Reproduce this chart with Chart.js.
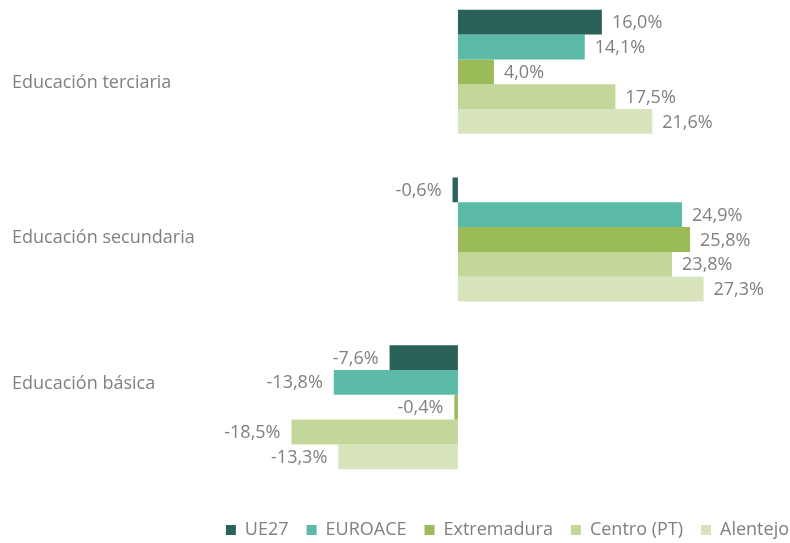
<!DOCTYPE html>
<html>
<head>
<meta charset="utf-8">
<script src="https://cdn.jsdelivr.net/npm/chart.js@4/dist/chart.umd.min.js"></script>
<style>
  html, body { margin: 0; padding: 0; background: #fff; }
  #wrap { position: relative; width: 790px; height: 543px; overflow: hidden; }
  #box { position: absolute; left: 0; top: -12px; width: 807px; height: 561px; }
</style>
</head>
<body>
<div id="wrap"><div id="box"><canvas id="chart"></canvas></div></div>
<script>
const categories = ["Educación terciaria", "Educación secundaria", "Educación básica"];
const seriesNames = ["UE27", "EUROACE", "Extremadura", "Centro (PT)", "Alentejo"];
const ue27 = [16.0, -0.6, -7.6];
const euroace = [14.1, 24.9, -13.8];
const extremadura = [4.0, 25.8, -0.4];
const centro = [17.5, 23.8, -18.5];
const alentejo = [21.6, 27.3, -13.3];
const colors = ["#2a6158", "#5cbaa8", "#9bbb59", "#c4d79b", "#d8e4bc"];

const fontFamily = "'Open Sans', 'Noto Sans', sans-serif";
const grey = "#808080";

const fmt = (v) => v.toFixed(1).replace(".", ",") + "%";

// category names sit a little off the group centre, like the Excel original
const catShift = [11, -2, -23];

const barLabels = {
  id: "barLabels",
  afterDatasetsDraw(chart) {
    const ctx = chart.ctx;
    ctx.save();
    ctx.font = "18px " + fontFamily;
    ctx.fillStyle = grey;
    ctx.textBaseline = "middle";
    chart.data.datasets.forEach((ds, i) => {
      const meta = chart.getDatasetMeta(i);
      meta.data.forEach((bar, j) => {
        const v = ds.data[j];
        if (v >= 0) {
          ctx.textAlign = "left";
          ctx.fillText(fmt(v), bar.x + 10, bar.y + 1);
        } else {
          ctx.textAlign = "right";
          ctx.fillText(fmt(v), bar.x - 11, bar.y + 1);
        }
      });
    });
    // category labels
    const y = chart.scales.y;
    ctx.textAlign = "left";
    categories.forEach((c, i) => {
      ctx.fillText(c, 12, y.getPixelForValue(i) + catShift[i]);
    });
    ctx.restore();
  }
};

const allSeries = [ue27, euroace, extremadura, centro, alentejo];

new Chart(document.getElementById("chart"), {
  type: "bar",
  data: {
    labels: categories,
    datasets: allSeries.map((d, i) => ({
      label: seriesNames[i],
      data: d,
      backgroundColor: colors[i],
      borderWidth: 0,
      categoryPercentage: 0.74,
      barPercentage: 1.0
    }))
  },
  options: {
    indexAxis: "y",
    responsive: true,
    maintainAspectRatio: false,
    animation: false,
    layout: { padding: 0 },
    scales: {
      x: {
        min: -20,
        max: 38.8,
        grid: { display: false },
        border: { display: false },
        ticks: { display: false },
        afterFit(scale) { scale.height = 12; }
      },
      y: {
        grid: { display: false },
        border: { display: false },
        ticks: { display: false },
        afterFit(scale) { scale.width = 278; }
      }
    },
    plugins: {
      legend: {
        position: "bottom",
        align: "end",
        labels: {
          boxWidth: 10,
          boxHeight: 10,
          padding: 18,
          color: grey,
          font: { family: fontFamily, size: 18 }
        }
      },
      tooltip: { enabled: false }
    }
  },
  plugins: [barLabels]
});
</script>
</body>
</html>
